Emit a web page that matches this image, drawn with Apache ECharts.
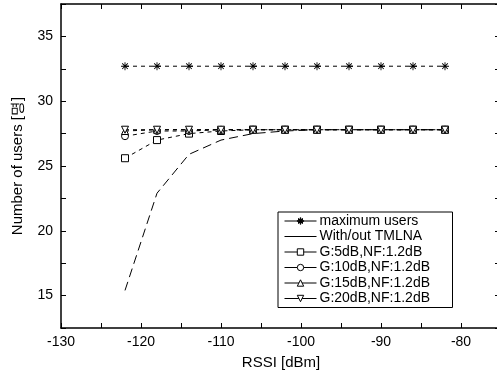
<!DOCTYPE html>
<html>
<head>
<meta charset="utf-8">
<script src="https://cdn.jsdelivr.net/npm/echarts@6/dist/echarts.min.js"></script>
<style>
html,body{margin:0;padding:0;background:#fff;}
#chart{width:497px;height:378px;}
</style>
</head>
<body>
<div id="chart"></div>
<script>
var rssi = [-122, -118, -114, -110, -106, -102, -98, -94, -90, -86, -82];
var maxUsers = [32.7, 32.7, 32.7, 32.7, 32.7, 32.7, 32.7, 32.7, 32.7, 32.7, 32.7];
var withoutTMLNA = [15.4, 22.9, 25.9, 27.0, 27.5, 27.7, 27.8, 27.8, 27.8, 27.8, 27.8];
var g5 = [25.6, 27.0, 27.5, 27.7, 27.8, 27.8, 27.8, 27.8, 27.8, 27.8, 27.8];
var g10 = [27.3, 27.7, 27.7, 27.8, 27.8, 27.8, 27.8, 27.8, 27.8, 27.8, 27.8];
var g15 = [27.7, 27.8, 27.8, 27.8, 27.8, 27.8, 27.8, 27.8, 27.8, 27.8, 27.8];
var g20 = [27.8, 27.8, 27.8, 27.8, 27.8, 27.8, 27.8, 27.8, 27.8, 27.8, 27.8];
var seriesNames = ['maximum users', 'With/out TMLNA', 'G:5dB,NF:1.2dB', 'G:10dB,NF:1.2dB', 'G:15dB,NF:1.2dB', 'G:20dB,NF:1.2dB'];

function pairs(ys){ return rssi.map(function(x,i){ return [x, ys[i]]; }); }

var asterisk = 'path://M-0.5,-4.5L0.5,-4.5L0.5,4.5L-0.5,4.5Z M-4.5,-0.5L4.5,-0.5L4.5,0.5L-4.5,0.5Z M-3.5,-2.8L-2.8,-3.5L3.5,2.8L2.8,3.5Z M2.8,-3.5L3.5,-2.8L-2.8,3.5L-3.5,2.8Z';
var downTri = 'path://M-5,-4L5,-4L0,5Z';
var plainLineIcon = 'path://M0,0M0,8M0,3.5L32,3.5L32,4.5L0,4.5Z';

var chart = echarts.init(document.getElementById('chart'), null, {renderer:'canvas'});
var font = 'Liberation Sans, Arial, sans-serif';
var dash = [4, 4];
function mk(name, data, symbol, size, ltype, z){
  return {
    name: name, type: 'line', data: pairs(data), z: z || 2,
    symbol: symbol, symbolSize: size, showSymbol: symbol !== 'none',
    lineStyle: {color: '#000', width: 1, type: ltype},
    itemStyle: {color: '#fff', borderColor: '#000', borderWidth: 1},
    emphasis: {disabled: true}, animation: false
  };
}
var s0 = mk(seriesNames[0], maxUsers, asterisk, 8, dash, 5);
s0.itemStyle = {color: '#000', borderColor: '#000', borderWidth: 0};
var s1 = mk(seriesNames[1], withoutTMLNA, 'none', 0, [9, 5], 2);
var s2 = mk(seriesNames[2], g5, 'rect', 7, dash, 3);
var s3 = mk(seriesNames[3], g10, 'circle', 7, dash, 4);
var s4 = mk(seriesNames[4], g15, 'triangle', 7, dash, 4);
var s5 = mk(seriesNames[5], g20, downTri, 7, dash, 4);

var legendData = seriesNames.map(function(n, i){
  if (i === 1) return {name: n, icon: plainLineIcon, itemStyle: {color: '#000', borderWidth: 0}};
  return {name: n};
});

var tickStyle = {color: '#000', width: 1};
chart.setOption({
  animation: false,
  backgroundColor: '#fff',
  grid: {left: 61, top: 4, width: 440, height: 324, containLabel: false, outerBoundsMode: 'none'},
  legend: {
    orient: 'vertical', left: 278, top: 212,
    data: legendData,
    itemWidth: 32, itemHeight: 8, itemGap: 1.5,
    padding: [2, 5, 2, 6],
    borderColor: '#000', borderWidth: 1, backgroundColor: '#fff',
    textStyle: {fontFamily: font, fontSize: 14, lineHeight: 14, color: '#000', width: 128, padding: [0, 0, 0, -2]},
    lineStyle: {type: 'solid', color: '#000', width: 1},
    itemStyle: {borderWidth: 1},
    selectedMode: false
  },
  xAxis: [{
    type: 'value', min: -130, max: -75, interval: 5, position: 'bottom',
    name: 'RSSI [dBm]', nameLocation: 'middle', nameGap: 27,
    nameTextStyle: {fontFamily: font, fontSize: 15, color: '#000'},
    axisLine: {show: true, lineStyle: {color: '#000', width: 1.5}, onZero: false},
    axisTick: {show: true, inside: true, length: 5, lineStyle: tickStyle},
    axisLabel: {fontFamily: font, fontSize: 14, color: '#000', margin: 7,
      formatter: function(v){ return v % 10 === 0 ? String(v) : ''; }},
    splitLine: {show: false}
  }, {
    type: 'value', min: -130, max: -75, interval: 5, position: 'top',
    axisLine: {show: true, lineStyle: {color: '#000', width: 1.5}, onZero: false},
    axisTick: {show: true, inside: true, length: 5, lineStyle: tickStyle},
    axisLabel: {show: false}, splitLine: {show: false}
  }],
  yAxis: [{
    type: 'value', min: 12.5, max: 37.5, interval: 2.5, position: 'left',
    name: 'Number of users [명]', nameLocation: 'middle', nameGap: 36,
    nameTextStyle: {fontFamily: font, fontSize: 15, color: '#000'},
    axisLine: {show: true, lineStyle: {color: '#000', width: 1.5}, onZero: false},
    axisTick: {show: true, inside: true, length: 5, lineStyle: tickStyle},
    axisLabel: {fontFamily: font, fontSize: 14, color: '#000', margin: 8,
      formatter: function(v){ return (v % 5 === 0 && v > 12.5 && v < 37.5) ? String(v) : ''; }},
    splitLine: {show: false}
  }, {
    type: 'value', min: 12.5, max: 37.5, interval: 2.5, position: 'right',
    axisLine: {show: true, lineStyle: {color: '#000', width: 1.5}, onZero: false},
    axisTick: {show: true, inside: true, length: 6, lineStyle: tickStyle},
    axisLabel: {show: false}, splitLine: {show: false}
  }],
  series: [s0, s1, s2, s3, s4, s5]
});
</script>
</body>
</html>
